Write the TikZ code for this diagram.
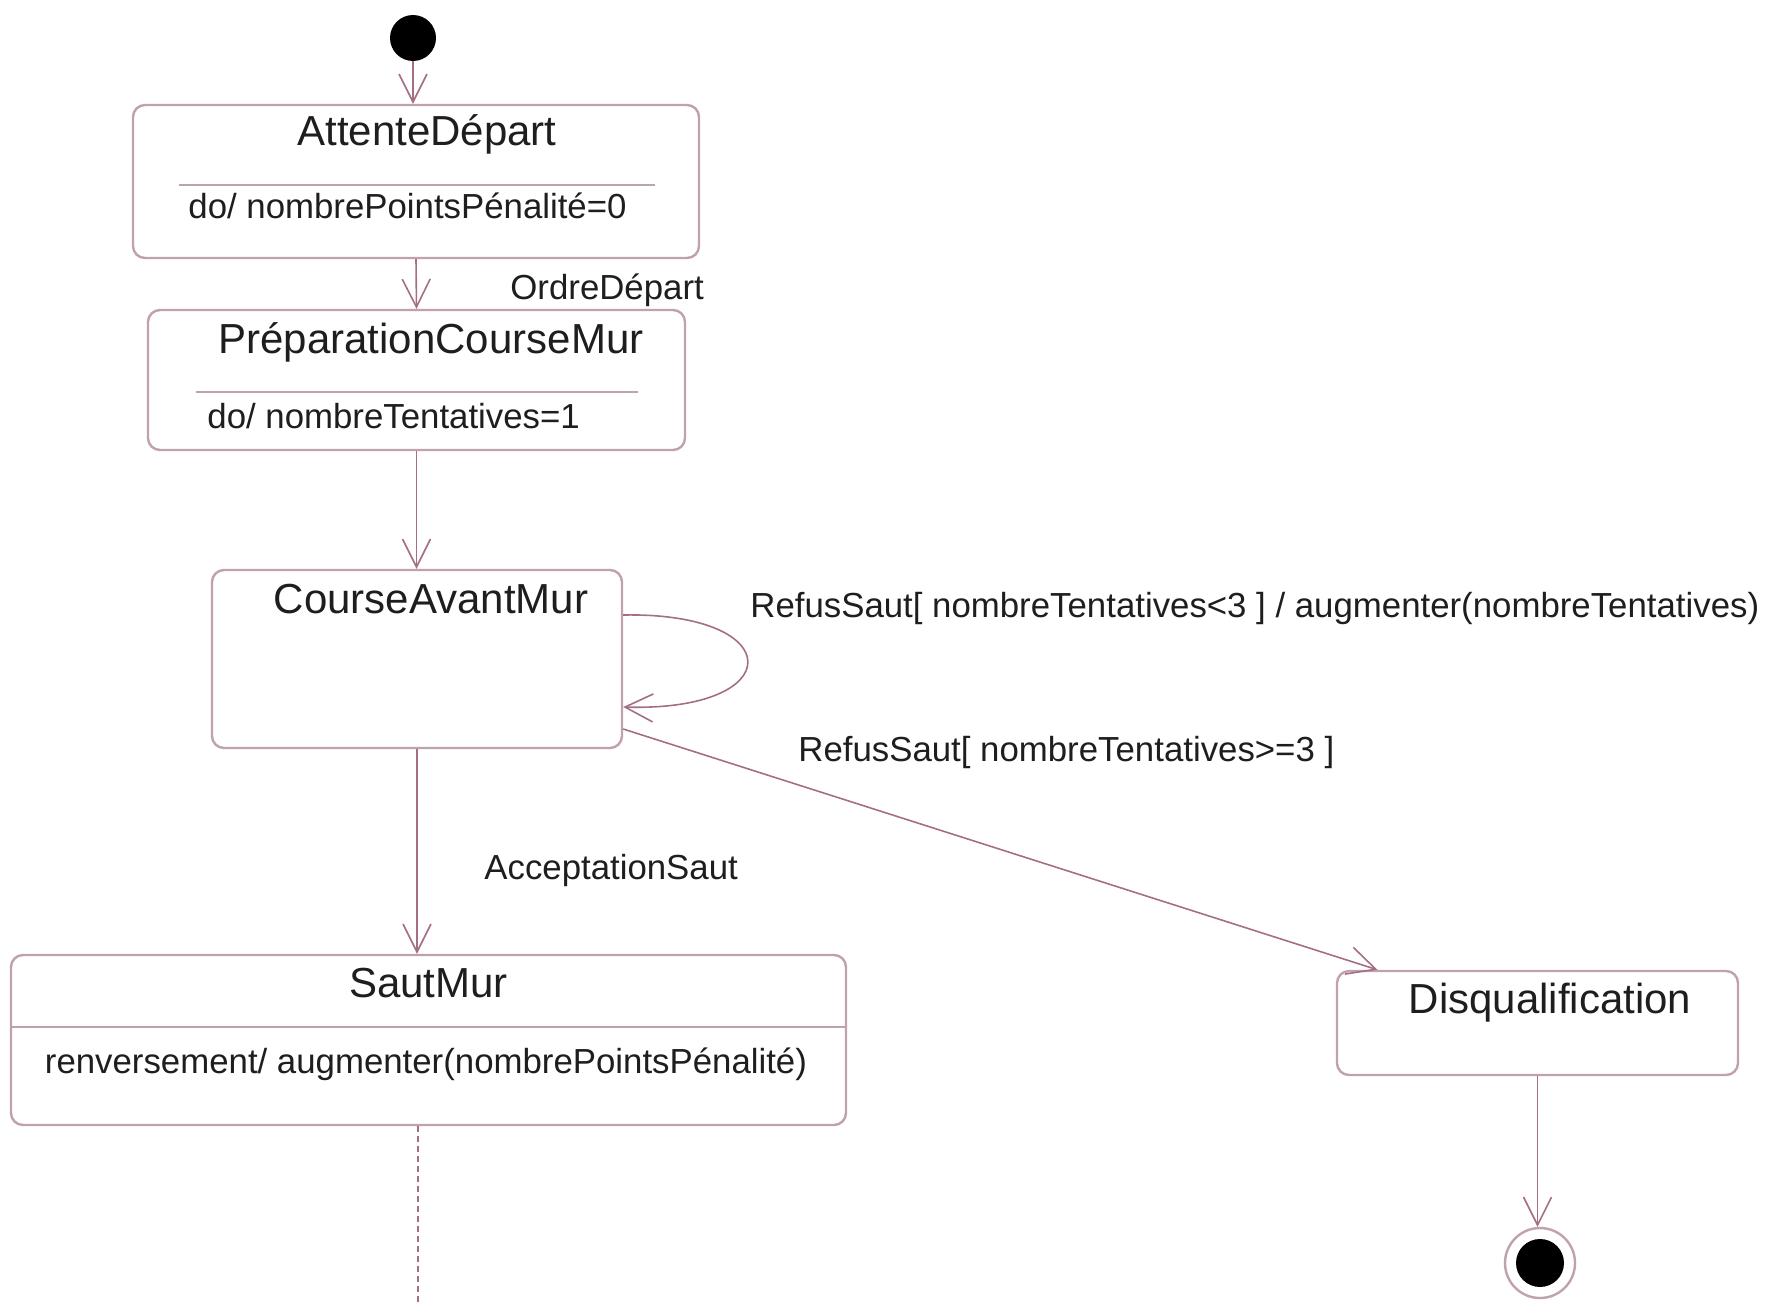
\documentclass[tikz,border=0pt]{standalone}
\usepackage{fontspec}
\setmainfont{Liberation Sans}
\usetikzlibrary{arrows.meta,calc}
\definecolor{edge}{RGB}{165,110,135}
\definecolor{frame}{RGB}{192,162,174}
\definecolor{ink}{RGB}{30,30,30}

\tikzset{
  state/.style={draw=frame, line width=1.2pt, rounded corners=6pt, rectangle, inner sep=0pt, fill=white},
  title/.style={anchor=base, text=ink, inner sep=0pt, font=\fontsize{21}{25}\selectfont},
  body/.style={anchor=base west, text=ink, inner sep=0pt, font=\fontsize{17.4}{21}\selectfont},
  trans/.style={draw=edge, line width=0.8pt, -{Straight Barb[length=14pt,width=14pt]}},
  divider/.style={draw=frame, line width=0.9pt},
  pending/.style={draw=edge, line width=0.8pt, dash pattern=on 3pt off 2pt},
}

\begin{document}
\begin{tikzpicture}[x=0.5pt,y=-0.5pt]
\useasboundingbox (0,0) rectangle (1787,1306);

% states
\node[circle, fill=black, minimum size=23pt, inner sep=0pt] (init) at (413,38) {};
\node[state, minimum width=283pt, minimum height=76.5pt] (attente) at (416,181.5) {};
\node[state, minimum width=268.5pt, minimum height=70pt] (prep) at (416.5,380) {};
\node[state, minimum width=205pt, minimum height=89pt] (course) at (417,659) {};
\node[state, minimum width=417.5pt, minimum height=85pt] (saut) at (428.5,1040) {};
\node[state, minimum width=200.5pt, minimum height=52pt] (disq) at (1537.5,1023) {};
\node[circle, draw=frame, line width=1.2pt, minimum size=35pt, inner sep=0pt] (final) at (1540,1263) {};
\fill[black] (final.center) circle (12pt);
\coordinate (cont) at (418,1306);

% compartment dividers
\draw[divider] (179,184.6) -- (655,184.6);
\draw[divider] (196,392) -- (638,392);
\draw[divider] (saut.west |- 0,1027) -- (saut.east |- 0,1027);

% state names and internal activities
\node[title] (tAttente) at (427,145) {AttenteDépart};
\node[body] (aAttente) at (188,218) {do/ nombrePointsPénalité=0};
\node[title] (tPrep) at (431,353) {PréparationCourseMur};
\node[body] (aPrep) at (207,428) {do/ nombreTentatives=1};
\node[title] (tCourse) at (431,613) {CourseAvantMur};
\node[title] (tSaut) at (428.5,997) {SautMur};
\node[body, anchor=base] (aSaut) at (426,1073) {renversement/ augmenter(nombrePointsPénalité)};
\node[title] (tDisq) at (1550,1013) {Disqualification};

% transition labels
\node[body] (lOrdre) at (510,299) {OrdreDépart};
\node[body] (lRetry) at (750,617) {RefusSaut[ nombreTentatives<3 ] / augmenter(nombreTentatives)};
\node[body] (lFail) at (798,761) {RefusSaut[ nombreTentatives>=3 ]};
\node[body] (lAccept) at (484,879) {AcceptationSaut};

% transitions
\draw[trans] (init.south) -- (init.south |- attente.north);
\draw[trans] (attente.south) -- (prep.north);
\draw[trans] (prep.south) -- (prep.south |- course.north);
\draw[trans] ([yshift=22pt]course.east) .. controls (789,612) and (789,712) .. ([yshift=-24pt]course.east);
\draw[trans] ([yshift=-35pt]course.east) -- ([xshift=-80pt]disq.north);
\draw[trans] (course.south) -- (course.south |- saut.north);
\draw[pending] ([xshift=-5.25pt]saut.south) -- (cont);
\draw[trans] (disq.south) -- (disq.south |- final.north);
\end{tikzpicture}
\end{document}
